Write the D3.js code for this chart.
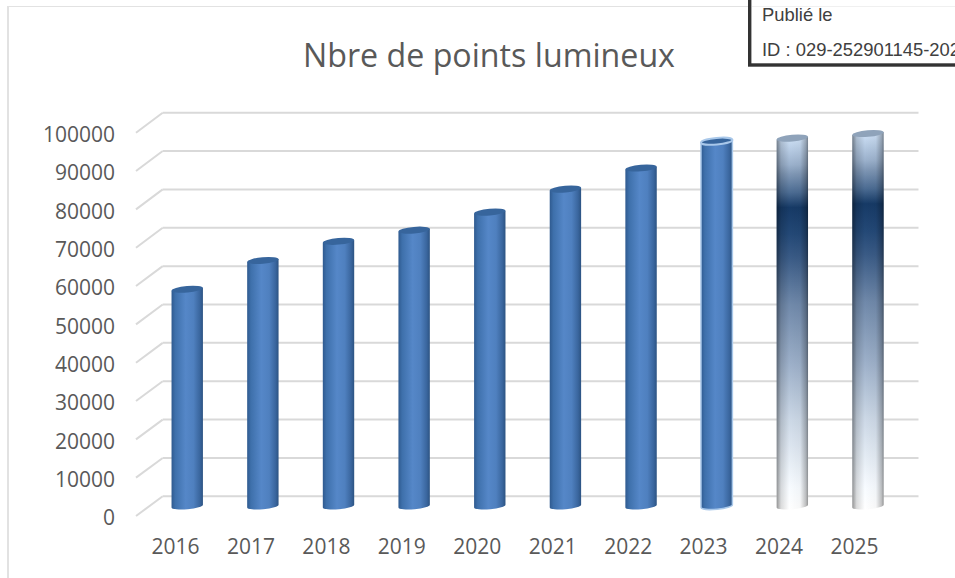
<!DOCTYPE html>
<html>
<head>
<meta charset="utf-8">
<script src="https://cdn.jsdelivr.net/npm/d3@7"></script>
<style>
  html, body { margin: 0; padding: 0; background: #fff; overflow: hidden; }
  svg { display: block; }
  text { font-family: "Open Sans", sans-serif; fill: #595959; }
</style>
</head>
<body>
<svg id="chart" width="955" height="578"></svg>
<script>
const years = ["2016", "2017", "2018", "2019", "2020", "2021", "2022", "2023", "2024", "2025"];
const points = [56500, 64000, 69000, 71900, 76600, 82600, 88100, 95100, 95900, 97100];
const yTicks = [0, 10000, 20000, 30000, 40000, 50000, 60000, 70000, 80000, 90000, 100000];
const plainYears = ["2016", "2017", "2018", "2019", "2020", "2021", "2022"];
const borderedYears = ["2023"];
const forecastYears = ["2024", "2025"];

const width = 955, height = 578;
const svg = d3.select("#chart");
const defs = svg.append("defs");

// three planes of the fake 3d box: front edge, bars, back wall
const yFront = d3.scaleLinear().domain([0, 100000]).range([516, 132.7]);
const yBack = d3.scaleLinear().domain([0, 100000]).range([496.3, 112.7]);
const yBar = d3.scaleLinear().domain([0, 100000]).range([506, 122.4]);

const x = d3.scaleBand().domain(years).range([149.6, 905.6]).paddingInner(0.585).paddingOuter(0.29);
const xLabel = d3.scalePoint().domain(years).range([175, 854]);

function hGrad(id, stops) {
  const g = defs.append("linearGradient").attr("id", id).attr("x1", 0).attr("x2", 1).attr("y1", 0).attr("y2", 0);
  stops.forEach(s => g.append("stop").attr("offset", s[0]).attr("stop-color", s[1]).attr("stop-opacity", s[2] === undefined ? 1 : s[2]));
}

hGrad("blueBody", [[0, "#2f5a8f"], [0.12, "#3e70ab"], [0.45, "#5587c8"], [0.7, "#4f80bf"], [0.9, "#3a669e"], [1, "#2c5382"]]);
hGrad("edgeShade", [[0, "#000", 0.42], [0.14, "#000", 0.14], [0.4, "#000", 0], [0.75, "#000", 0.03], [0.93, "#000", 0.25], [1, "#000", 0.42]]);

const fade = defs.append("linearGradient").attr("id", "forecastBody").attr("x1", 0).attr("x2", 0).attr("y1", 0).attr("y2", 1);
[[0.01, "#c9dcf2"], [0.075, "#9bb1cc"], [0.1, "#7f97b5"], [0.15, "#4b6b92"], [0.19, "#163a66"], [0.26, "#234876"], [0.325, "#3a5b86"], [0.45, "#7089aa"], [0.61, "#9db0c9"], [0.76, "#ccd8e6"], [0.94, "#f7fbff"], [1, "#ffffff"]]
  .forEach(s => fade.append("stop").attr("offset", s[0]).attr("stop-color", s[1]));

// chart frame
svg.append("line").attr("x1", 8).attr("x2", 8).attr("y1", 6).attr("y2", height).attr("stroke", "#d9d9d9").attr("stroke-width", 1.5);
svg.append("line").attr("x1", 7).attr("x2", width).attr("y1", 6.5).attr("y2", 6.5).attr("stroke", "#e2e2e2").attr("stroke-width", 1.2);

// gridlines on back wall and floor/side diagonals
const grid = svg.append("g").attr("stroke", "#d9d9d9").attr("stroke-width", 2).attr("fill", "none");
grid.selectAll("line.back").data(yTicks).join("line").attr("class", "back")
  .attr("x1", 162.7).attr("x2", 918.5).attr("y1", d => yBack(d)).attr("y2", d => yBack(d));
grid.selectAll("line.side").data(yTicks).join("line").attr("class", "side")
  .attr("x1", 136).attr("x2", 162.7).attr("y1", d => yFront(d)).attr("y2", d => yBack(d));

svg.append("text").attr("x", 489).attr("y", 67).attr("text-anchor", "middle")
  .style("font-size", "32.2px").text("Nbre de points lumineux");

// axes
const yAxis = svg.append("g").attr("transform", "translate(122,2)")
  .call(d3.axisLeft(yFront).tickValues(yTicks).tickFormat(d3.format("d")).tickSize(0).tickPadding(7));
yAxis.select(".domain").remove();
yAxis.selectAll("text").style("font-size", "21px").style("fill", "#595959");

const xAxis = svg.append("g").attr("transform", "translate(0,539)")
  .call(d3.axisBottom(xLabel).tickSize(0).tickPadding(0));
xAxis.select(".domain").remove();
xAxis.selectAll("text").style("font-size", "21px").style("fill", "#595959");

// cylinders
const rx = () => x.bandwidth() / 2;
const ry = 3.3, tilt = -5;

function bodyPath(d) {
  const left = x(d), w = x.bandwidth();
  const top = yBar(points[years.indexOf(d)]), bot = yBar(0);
  return `M${left},${top + 1.4} L${left},${bot + 1.4} A${w / 2},${ry} ${tilt} 0 0 ${left + w},${bot - 1.4} L${left + w},${top - 1.4} Z`;
}
function topCap(sel) {
  sel.attr("cx", 0).attr("cy", 0).attr("rx", rx()).attr("ry", ry)
    .attr("transform", d => `translate(${x(d) + rx()},${yBar(points[years.indexOf(d)])}) rotate(${tilt})`);
}

const bars = svg.append("g");
bars.selectAll("path.plain").data(plainYears.concat(borderedYears)).join("path").attr("class", "plain")
  .attr("d", bodyPath).attr("fill", "url(#blueBody)")
  .attr("stroke", d => borderedYears.includes(d) ? "#a9c8ea" : "none").attr("stroke-width", 1.5);
bars.selectAll("ellipse.plain").data(plainYears.concat(borderedYears)).join("ellipse").attr("class", "plain")
  .call(topCap).attr("fill", "#37659c")
  .attr("stroke", d => borderedYears.includes(d) ? "#a9c8ea" : "none").attr("stroke-width", 2);

bars.selectAll("path.fc").data(forecastYears).join("path").attr("class", "fc")
  .attr("d", bodyPath).attr("fill", "url(#forecastBody)");
bars.selectAll("path.fcshade").data(forecastYears).join("path").attr("class", "fcshade")
  .attr("d", bodyPath).attr("fill", "url(#edgeShade)");
bars.selectAll("ellipse.fc").data(forecastYears).join("ellipse").attr("class", "fc")
  .call(topCap).attr("fill", "#8fa3ba");

// stamp box, top right
const stamp = svg.append("g");
stamp.append("rect").attr("x", 749.7).attr("y", -5).attr("width", 220).attr("height", 70)
  .attr("fill", "#fff").attr("stroke", "#333").attr("stroke-width", 3.4);
stamp.append("line").attr("x1", 752).attr("x2", width).attr("y1", 6.5).attr("y2", 6.5).attr("stroke", "#f0f0f0");
stamp.append("text").attr("x", 762).attr("y", 21).style("font-family", "'Liberation Sans', Arial, sans-serif")
  .style("font-size", "18.4px").style("fill", "#404040").text("Publié le");
stamp.append("text").attr("x", 762).attr("y", 56).style("font-family", "'Liberation Sans', Arial, sans-serif")
  .style("font-size", "18.4px").style("fill", "#404040").text("ID : 029-252901145-2025");
</script>
</body>
</html>
